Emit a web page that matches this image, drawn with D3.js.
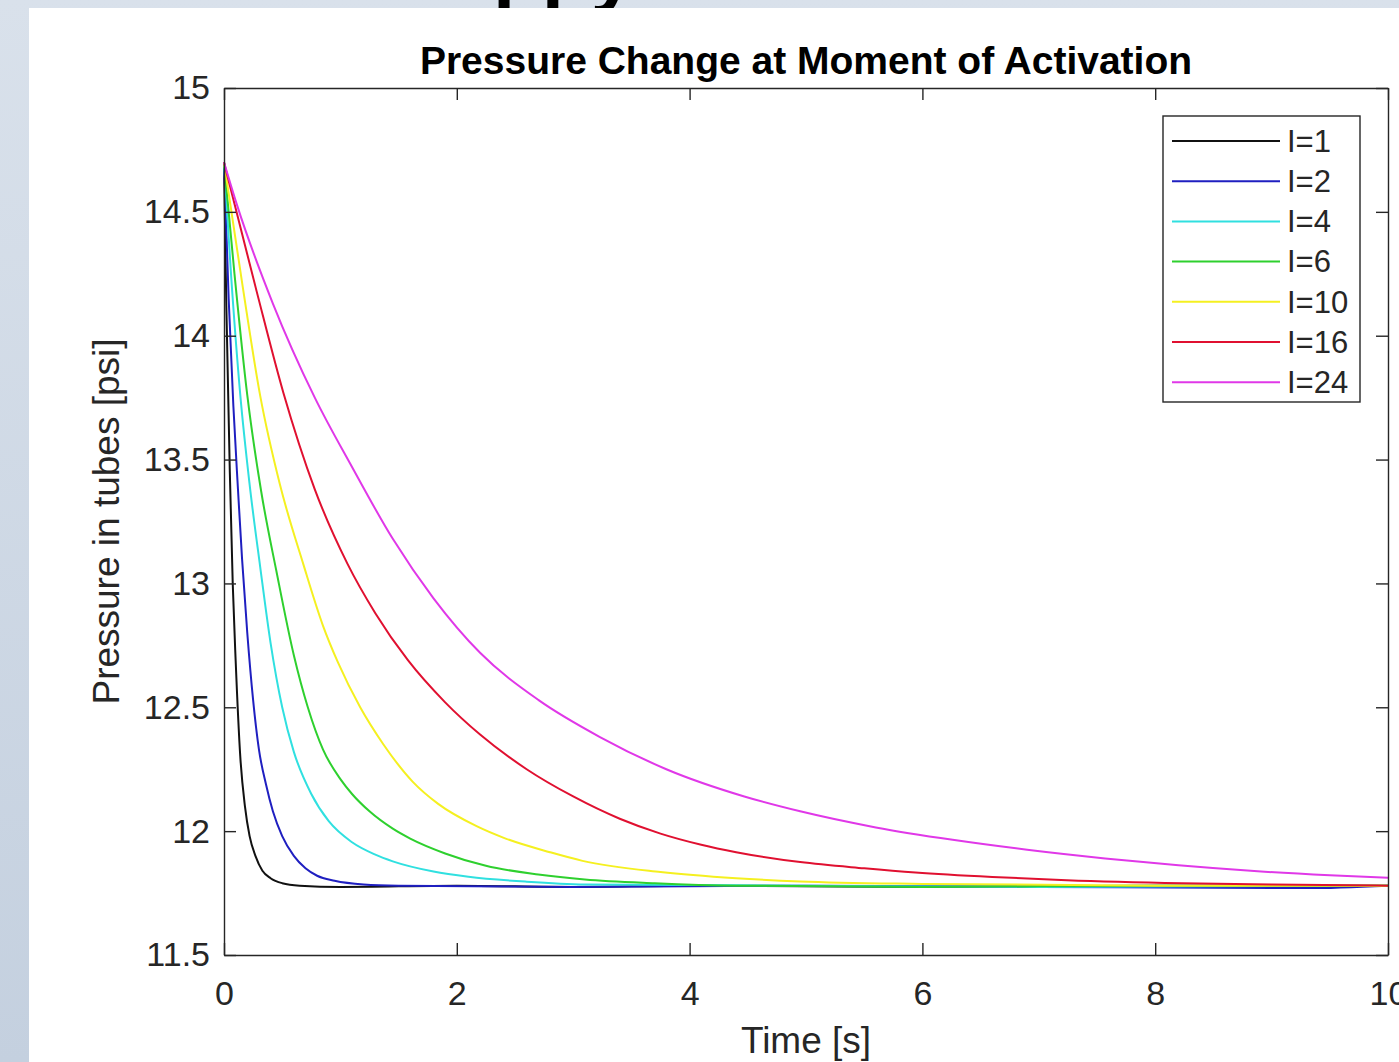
<!DOCTYPE html>
<html lang="en">
<head>
<meta charset="utf-8">
<title>Pressure Change at Moment of Activation</title>
<script src="https://d3js.org/d3.v7.min.js"></script>
<style>
  body { margin: 0; overflow: hidden; background: #fff; }
  text { font-family: Arial, "Liberation Sans", Helvetica, sans-serif; }
</style>
</head>
<body>
<script>
// series: [time s, pressure psi]
var i1 = [[0,14.70],[0.02,14.12],[0.05,13.45],[0.075,13.0],[0.1,12.69],[0.14,12.3],[0.18,12.1],[0.22,11.98],[0.27,11.9],[0.33,11.84],[0.4,11.81],[0.5,11.79],[0.65,11.78],[1,11.775],[2,11.78],[3,11.775],[4,11.78],[6,11.775],[8,11.78],[10,11.78]];
var i2 = [[0,14.70],[0.04,14.15],[0.08,13.72],[0.12,13.38],[0.155,13.1],[0.2,12.8],[0.25,12.53],[0.3,12.33],[0.36,12.19],[0.42,12.08],[0.5,11.98],[0.6,11.9],[0.7,11.85],[0.8,11.82],[0.95,11.80],[1.2,11.785],[1.5,11.78],[3,11.775],[5,11.78],[7,11.775],[9.3,11.77],[10,11.78]];
var i4 = [[0,14.70],[0.06,14.25],[0.14,13.76],[0.22,13.4],[0.31,13.07],[0.4,12.76],[0.5,12.5],[0.6,12.32],[0.75,12.15],[0.9,12.04],[1.1,11.955],[1.3,11.905],[1.45,11.878],[1.8,11.837],[2.1,11.816],[2.6,11.796],[3.1,11.785],[5,11.78],[7,11.775],[10,11.78]];
var i6 = [[0,14.70],[0.09,14.25],[0.2,13.76],[0.32,13.37],[0.45,13.05],[0.6,12.71],[0.72,12.5],[0.85,12.33],[1.0,12.21],[1.1,12.15],[1.25,12.08],[1.45,12.01],[1.6,11.97],[1.9,11.91],[2.25,11.86],[2.7,11.825],[3.1,11.805],[3.7,11.79],[4.4,11.78],[6,11.775],[8,11.78],[10,11.78]];
var i10 = [[0,14.70],[0.16,14.2],[0.31,13.76],[0.48,13.4],[0.68,13.08],[0.85,12.83],[0.98,12.68],[1.17,12.5],[1.37,12.35],[1.62,12.2],[1.84,12.11],[2.17,12.02],[2.42,11.97],[2.8,11.915],[3.08,11.88],[3.75,11.835],[4.4,11.81],[4.95,11.797],[6,11.787],[8,11.78],[10,11.78]];
var i16 = [[0,14.70],[0.28,14.18],[0.51,13.77],[0.78,13.38],[1.06,13.08],[1.3,12.88],[1.58,12.69],[1.9,12.52],[2.2,12.39],[2.6,12.25],[3.0,12.14],[3.4,12.05],[3.75,11.99],[4.1,11.945],[4.4,11.915],[4.95,11.875],[5.5,11.85],[5.94,11.833],[6.6,11.815],[7.24,11.802],[8.23,11.79],[9,11.785],[10,11.78]];
var i24 = [[0,14.70],[0.11,14.53],[0.42,14.13],[0.78,13.75],[1.1,13.47],[1.45,13.18],[1.8,12.94],[2.2,12.72],[2.7,12.53],[3.23,12.38],[3.8,12.25],[4.47,12.14],[4.95,12.08],[5.6,12.015],[6.26,11.965],[6.9,11.925],[7.57,11.89],[8.2,11.862],[8.88,11.838],[9.5,11.822],[10,11.812]];

var seriesData = [i1, i2, i4, i6, i10, i16, i24];
var seriesNames = ["I=1", "I=2", "I=4", "I=6", "I=10", "I=16", "I=24"];
var seriesColors = ["#111111", "#1f1fc0", "#30e0e0", "#2ed02e", "#f5f020", "#e01030", "#e038e8"];

var xTicks = [0, 2, 4, 6, 8, 10];
var yTicks = [11.5, 12, 12.5, 13, 13.5, 14, 14.5, 15];

var W = 1399, H = 1062;
// plot box in page pixels (don't call these top/left, window.top is read-only)
var box = { left: 224, right: 1388, top: 88, bottom: 955 };
var axisColor = "#262626";

var svg = d3.select("body").append("svg")
  .attr("width", W)
  .attr("height", H);

// slide background behind the figure
var defs = svg.append("defs");
var grad = defs.append("linearGradient")
  .attr("id", "slideBg")
  .attr("x1", 0).attr("y1", 0).attr("x2", 0).attr("y2", 1);
grad.append("stop").attr("offset", "0%").attr("stop-color", "#d9e1eb");
grad.append("stop").attr("offset", "100%").attr("stop-color", "#c4d0df");

svg.append("rect")
  .attr("width", W).attr("height", H)
  .attr("fill", "url(#slideBg)");

// bottom of the slide heading, mostly hidden behind the figure
svg.append("text")
  .attr("x", 493)
  .attr("y", -3)
  .attr("font-size", 80)
  .attr("font-weight", "bold")
  .attr("fill", "#000")
  .text("ppy");

// white figure panel
svg.append("rect")
  .attr("x", 29).attr("y", 8)
  .attr("width", W - 29).attr("height", H - 8)
  .attr("fill", "#fff");

var xScale = d3.scaleLinear().domain([0, 10]).range([box.left, box.right]);
var yScale = d3.scaleLinear().domain([11.5, 15]).range([box.bottom, box.top]);

// curves
var line = d3.line()
  .x(function(d) { return xScale(d[0]); })
  .y(function(d) { return yScale(d[1]); })
  .curve(d3.curveMonotoneX);

svg.append("g")
  .selectAll("path")
  .data(seriesData)
  .join("path")
  .attr("d", line)
  .attr("fill", "none")
  .attr("stroke", function(d, i) { return seriesColors[i]; })
  .attr("stroke-width", 2);

// axes, ticks pointing inward like matlab
function styleAxis(g) {
  g.select(".domain").attr("stroke", axisColor).attr("stroke-width", 1.4);
  g.selectAll(".tick line").attr("stroke", axisColor).attr("stroke-width", 1.4);
  g.selectAll(".tick text")
    .attr("fill", axisColor)
    .attr("font-size", 34)
    .attr("font-family", "Arial, 'Liberation Sans', sans-serif");
}

svg.append("g")
  .attr("transform", "translate(0," + box.bottom + ")")
  .call(d3.axisBottom(xScale).tickValues(xTicks).tickSizeInner(-12).tickSizeOuter(0).tickPadding(26).tickFormat(d3.format("d")))
  .call(styleAxis);

svg.append("g")
  .attr("transform", "translate(0," + box.top + ")")
  .call(d3.axisTop(xScale).tickValues(xTicks).tickSizeInner(-12).tickSizeOuter(0).tickFormat(""))
  .call(styleAxis);

svg.append("g")
  .attr("transform", "translate(" + box.left + ",0)")
  .call(d3.axisLeft(yScale).tickValues(yTicks).tickSizeInner(-12).tickSizeOuter(0).tickPadding(14).tickFormat(d3.format("")))
  .call(styleAxis);

svg.append("g")
  .attr("transform", "translate(" + box.right + ",0)")
  .call(d3.axisRight(yScale).tickValues(yTicks).tickSizeInner(-12).tickSizeOuter(0).tickFormat(""))
  .call(styleAxis);

// title and axis labels
svg.append("text")
  .attr("x", (box.left + box.right) / 2)
  .attr("y", 74)
  .attr("text-anchor", "middle")
  .attr("font-size", 39)
  .attr("font-weight", "bold")
  .attr("fill", "#000")
  .text("Pressure Change at Moment of Activation");

svg.append("text")
  .attr("x", (box.left + box.right) / 2)
  .attr("y", 1053)
  .attr("text-anchor", "middle")
  .attr("font-size", 37)
  .attr("fill", axisColor)
  .text("Time [s]");

svg.append("text")
  .attr("transform", "translate(119," + (box.top + box.bottom) / 2 + ") rotate(-90)")
  .attr("text-anchor", "middle")
  .attr("font-size", 37)
  .attr("fill", axisColor)
  .text("Pressure in tubes [psi]");

// legend
var legend = svg.append("g");
legend.append("rect")
  .attr("x", 1163).attr("y", 116)
  .attr("width", 197).attr("height", 286)
  .attr("fill", "#fff")
  .attr("stroke", axisColor)
  .attr("stroke-width", 1.4);

var rows = legend.selectAll("g.row")
  .data(seriesNames)
  .join("g")
  .attr("class", "row")
  .attr("transform", function(d, i) { return "translate(0," + (141 + i * 40.2) + ")"; });

rows.append("line")
  .attr("x1", 1172).attr("x2", 1280)
  .attr("stroke", function(d, i) { return seriesColors[i]; })
  .attr("stroke-width", 2);

rows.append("text")
  .attr("x", 1287)
  .attr("dy", "0.35em")
  .attr("font-size", 31)
  .attr("fill", axisColor)
  .text(function(d) { return d; });
</script>
</body>
</html>
